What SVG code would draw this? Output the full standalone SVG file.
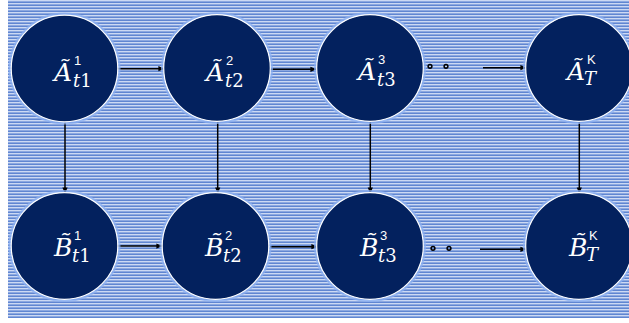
<svg xmlns="http://www.w3.org/2000/svg" width="629" height="323" viewBox="0 0 629 323">
<defs>
<pattern id="stripes" x="0" y="0" width="9" height="3" patternUnits="userSpaceOnUse">
<rect x="0" y="0" width="9" height="1" fill="#ccd9f3"/>
<rect x="0" y="1" width="9" height="1" fill="#8ca8e0"/>
<rect x="0" y="2" width="9" height="1" fill="#6086d1"/>
</pattern>
<marker id="arr" viewBox="0 0 8 8" refX="7.5" refY="4" markerWidth="6.5" markerHeight="6" orient="auto" markerUnits="userSpaceOnUse">
<path d="M0,0.5 L8,4 L0,7.5 Z" fill="#000"/>
</marker>
</defs>
<style>
.glow{fill:none;stroke:#8cb0f2;stroke-width:3;opacity:0.75}
.node{fill:#03215e;stroke:#ffffff;stroke-width:1.2}
.main{font-family:"DejaVu Serif",serif;font-style:italic;font-size:25px;fill:#ffffff}
.sub{font-family:"DejaVu Serif",serif;font-size:18px;fill:#ffffff}
.it{font-style:italic}
.sup{font-family:"Liberation Sans",sans-serif;font-size:13px;fill:#ffffff}
.edge{stroke:#000;stroke-width:1.5;fill:none}
.dot{fill:none;stroke:#000;stroke-width:1.5}
</style>
<rect x="0" y="0" width="629" height="323" fill="#ffffff"/>
<rect x="8" y="0" width="621" height="318" fill="url(#stripes)"/>

<g id="connectors">
<line class="edge" x1="118" y1="68.7" x2="164" y2="68.7" marker-end="url(#arr)"/>
<line class="edge" x1="270" y1="69.3" x2="316" y2="69.3" marker-end="url(#arr)"/>
<line class="edge" x1="483" y1="67.7" x2="526" y2="67.7" marker-end="url(#arr)"/>
<line class="edge" x1="117" y1="246" x2="162" y2="246" marker-end="url(#arr)"/>
<line class="edge" x1="270" y1="246.7" x2="317" y2="246.7" marker-end="url(#arr)"/>
<line class="edge" x1="480" y1="249.3" x2="526" y2="249.3" marker-end="url(#arr)"/>
<line class="edge" x1="65" y1="122" x2="65" y2="193" marker-end="url(#arr)"/>
<line class="edge" x1="217.7" y1="121" x2="217.7" y2="193" marker-end="url(#arr)"/>
<line class="edge" x1="370.3" y1="121" x2="370.3" y2="193" marker-end="url(#arr)"/>
<line class="edge" x1="579.3" y1="121" x2="579.3" y2="193" marker-end="url(#arr)"/>
<circle class="dot" cx="430" cy="66.3" r="1.9"/>
<circle class="dot" cx="446" cy="66.3" r="1.9"/>
<circle class="dot" cx="433" cy="248.3" r="1.9"/>
<circle class="dot" cx="449" cy="248.3" r="1.9"/>
</g>

<g id="nodeA1">
<circle class="glow" cx="64.5" cy="68.5" r="54.5"/>
<circle class="node" cx="64.5" cy="68.5" r="53.3"/>
<text class="main" x="54" y="81">Ã</text>
<text class="sub" x="73" y="87"><tspan class="it">t</tspan>1</text>
<text class="sup" x="74" y="65">1</text>
</g>
<g id="nodeA2">
<circle class="glow" cx="217" cy="68" r="54.5"/>
<circle class="node" cx="217" cy="68" r="53.3"/>
<text class="main" x="206" y="81">Ã</text>
<text class="sub" x="225" y="87"><tspan class="it">t</tspan>2</text>
<text class="sup" x="226" y="65">2</text>
</g>
<g id="nodeA3">
<circle class="glow" cx="370" cy="68" r="54.5"/>
<circle class="node" cx="370" cy="68" r="53.3"/>
<text class="main" x="358" y="80">Ã</text>
<text class="sub" x="377" y="86"><tspan class="it">t</tspan>3</text>
<text class="sup" x="378" y="64">3</text>
</g>
<g id="nodeAK">
<circle class="glow" cx="579" cy="68" r="54.5"/>
<circle class="node" cx="579" cy="68" r="53.3"/>
<text class="main" x="567" y="80">Ã</text>
<text class="sub it" x="584" y="85">T</text>
<text class="sup" x="587" y="64">K</text>
</g>

<g id="nodeB1">
<circle class="glow" cx="64.5" cy="246" r="54.5"/>
<circle class="node" cx="64.5" cy="246" r="53.3"/>
<text class="main" x="54" y="256">B̃</text>
<text class="sub" x="72" y="262"><tspan class="it">t</tspan>1</text>
<text class="sup" x="74" y="240">1</text>
</g>
<g id="nodeB2">
<circle class="glow" cx="215.5" cy="246" r="54.5"/>
<circle class="node" cx="215.5" cy="246" r="53.3"/>
<text class="main" x="205" y="256">B̃</text>
<text class="sub" x="223" y="262"><tspan class="it">t</tspan>2</text>
<text class="sup" x="225" y="240">2</text>
</g>
<g id="nodeB3">
<circle class="glow" cx="370" cy="246" r="54.5"/>
<circle class="node" cx="370" cy="246" r="53.3"/>
<text class="main" x="360" y="256">B̃</text>
<text class="sub" x="378" y="262"><tspan class="it">t</tspan>3</text>
<text class="sup" x="380" y="240">3</text>
</g>
<g id="nodeBK">
<circle class="glow" cx="579" cy="246" r="54.5"/>
<circle class="node" cx="579" cy="246" r="53.3"/>
<text class="main" x="569" y="256">B̃</text>
<text class="sub it" x="586" y="261">T</text>
<text class="sup" x="589" y="240">K</text>
</g>
</svg>
